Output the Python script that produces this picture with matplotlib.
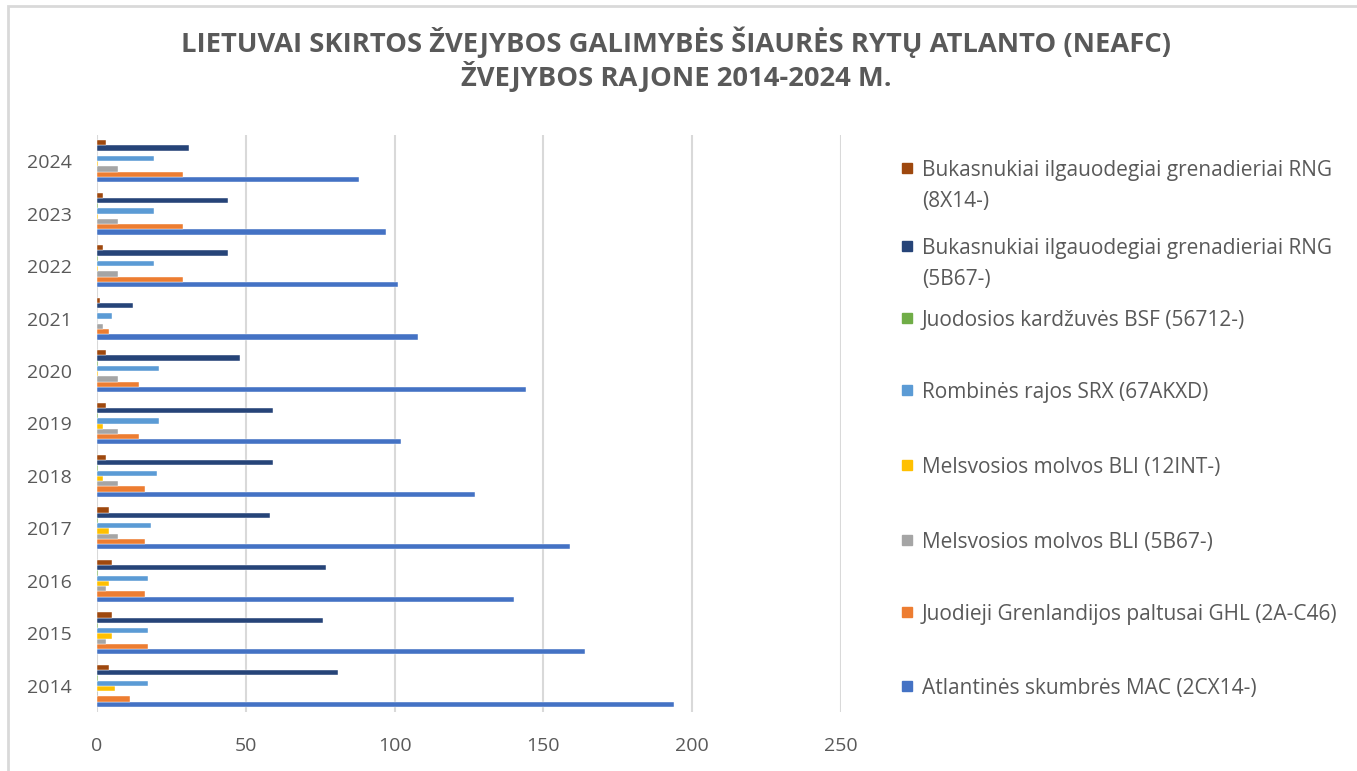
import numpy as np
import matplotlib.pyplot as plt
from matplotlib.patches import Rectangle

years = [2014, 2015, 2016, 2017, 2018, 2019, 2020, 2021, 2022, 2023, 2024]

# series, bottom-to-top inside every year group
mac = [194, 164, 140, 159, 127, 102, 144, 108, 101, 97, 88]
ghl = [11, 17, 16, 16, 16, 14, 14, 4, 29, 29, 29]
bli_5b67 = [0.5, 3, 3, 7, 7, 7, 7, 2, 7, 7, 7]
bli_12int = [6, 5, 4, 4, 2, 2, 0.5, 0, 0.5, 0.5, 0.5]
srx = [17, 17, 17, 18, 20, 21, 21, 5, 19, 19, 19]
bsf = [0.5, 0.5, 0.5, 0.5, 0.5, 0.5, 0.5, 0, 0.5, 0.5, 0]
rng_5b67 = [81, 76, 77, 58, 59, 59, 48, 12, 44, 44, 31]
rng_8x14 = [4, 5, 5, 4, 3, 3, 3, 1, 2, 2, 3]

series = [mac, ghl, bli_5b67, bli_12int, srx, bsf, rng_5b67, rng_8x14]
names = [
    "Atlantinės skumbrės MAC (2CX14-)",
    "Juodieji Grenlandijos paltusai GHL (2A-C46)",
    "Melsvosios molvos BLI (5B67-)",
    "Melsvosios molvos BLI (12INT-)",
    "Rombinės rajos SRX (67AKXD)",
    "Juodosios kardžuvės BSF (56712-)",
    "Bukasnukiai ilgauodegiai grenadieriai RNG\n(5B67-)",
    "Bukasnukiai ilgauodegiai grenadieriai RNG\n(8X14-)",
]
colors = ["#4472C4", "#ED7D31", "#A5A5A5", "#FFC000",
          "#5B9BD5", "#70AD47", "#264478", "#9E480E"]

plt.rcParams['font.family'] = ['Open Sans', 'DejaVu Sans']
W, H = 1357, 771
fig = plt.figure(figsize=(W / 100, H / 100), dpi=100)

# outer chart border (runs off the right and bottom edges)
fig.add_artist(Rectangle((8 / W, -0.05), 1.0, 1.05 - 6 / H, transform=fig.transFigure,
                         fill=False, edgecolor="#D9D9D9", linewidth=2))

ax = fig.add_axes([97 / W, 59 / H, 744 / W, 577 / H])

y = np.arange(len(years))
bh = 0.1
for i, (vals, c) in enumerate(zip(series, colors)):
    off = (i - 3.5) * bh
    ax.barh(y + off, vals, height=bh, color=c, edgecolor="white", linewidth=0.3)

ax.set_xlim(0, 250)
ax.set_ylim(-0.5, len(years) - 0.5)
ax.set_xticks([0, 50, 100, 150, 200, 250])
ax.set_yticks(y)
ax.set_yticklabels([str(v) for v in years])
ax.xaxis.grid(True, color="#D9D9D9", linewidth=1.5)
ax.set_axisbelow(True)
for s in ax.spines.values():
    s.set_visible(False)
ax.tick_params(axis="both", length=0, colors="#595959", labelsize=14)
ax.tick_params(axis="x", pad=18)
ax.tick_params(axis="y", pad=18)

title_kw = dict(ha="center", va="center", fontsize=19.7, fontweight="bold", color="#595959")
fig.text(676 / W, 1 - 42 / H, "LIETUVAI SKIRTOS ŽVEJYBOS GALIMYBĖS ŠIAURĖS RYTŲ ATLANTO (NEAFC)", **title_kw)
fig.text(676 / W, 1 - 76 / H, "ŽVEJYBOS RAJONE 2014-2024 M.", **title_kw)

# legend, top-down order as in the picture
leg_y = [168, 246, 318, 390, 465, 540, 612, 686]
for k, idx in enumerate(range(len(series) - 1, -1, -1)):
    yy = leg_y[k]
    fig.add_artist(Rectangle((902 / W, 1 - (yy + 5) / H), 10 / W, 10 / H,
                             transform=fig.transFigure, color=colors[idx]))
    for j, line in enumerate(names[idx].split("\n")):
        fig.text(922 / W, 1 - (yy + 31 * j) / H, line, ha="left", va="center_baseline",
                 fontsize=15, color="#595959")

fig.savefig("out.png", dpi=100)
